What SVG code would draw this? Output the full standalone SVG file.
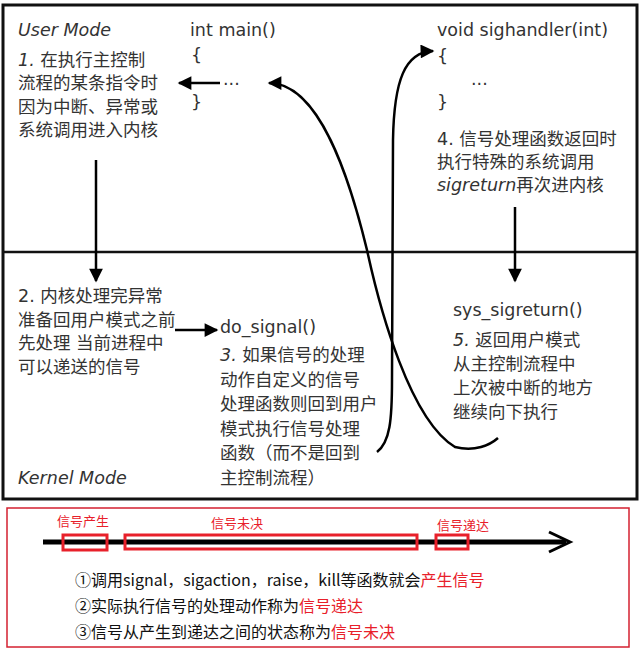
<svg xmlns="http://www.w3.org/2000/svg" width="641" height="650" viewBox="0 0 641 650">
<style>
.t{font-family:"DejaVu Sans","Noto Sans CJK SC",sans-serif;font-size:17.5px;fill:#333}
.i{font-style:italic}
.ln{fill:none;stroke:#000;stroke-width:2.5}
.b{font-family:"Noto Sans CJK SC","Noto Sans",sans-serif;font-size:16px;fill:#111}
.r{fill:#e8202a}
.rb{fill:none;stroke:#e8202a;stroke-width:3}
.lab{font-family:"Noto Sans CJK SC",sans-serif;font-size:13px;fill:#e8202a}
</style>
<defs>
<marker id="ah" viewBox="0 0 10 10" refX="9" refY="5" markerWidth="6" markerHeight="5.5" markerUnits="strokeWidth" orient="auto">
<path d="M0,0 L10,5 L0,10 z" fill="#000"/>
</marker>
</defs>
<rect x="3" y="5" width="634" height="494" fill="#fff" stroke="#111" stroke-width="3"/>
<line x1="3" y1="252" x2="637" y2="252" stroke="#111" stroke-width="2.5"/>
<g id="userMode"><text class="t i" x="18" y="36">User Mode</text></g>
<g id="kernelMode"><text class="t i" x="18" y="484">Kernel Mode</text></g>
<g id="step1">
<text class="t" x="18" y="66"><tspan class="i">1.</tspan> 在执行主控制</text>
<text class="t" x="18" y="89">流程的某条指令时</text>
<text class="t" x="18" y="113">因为中断、异常或</text>
<text class="t" x="18" y="136">系统调用进入内核</text>
</g>
<g id="main">
<text class="t" x="190" y="36">int main()</text>
<text class="t" x="191" y="61">{</text>
<text class="t" x="223" y="85">...</text>
<text class="t" x="191" y="108">}</text>
</g>
<g id="sighandler">
<text class="t" x="437" y="36">void sighandler(int)</text>
<text class="t" x="437" y="62">{</text>
<text class="t" x="471" y="85">...</text>
<text class="t" x="437" y="108">}</text>
</g>
<g id="step4">
<text class="t" x="437" y="145">4. 信号处理函数返回时</text>
<text class="t" x="437" y="168">执行特殊的系统调用</text>
<text class="t" x="437" y="191"><tspan class="i">sigreturn</tspan>再次进内核</text>
</g>
<g id="step2">
<text class="t" x="18" y="302">2. 内核处理完异常</text>
<text class="t" x="18" y="326">准备回用户模式之前</text>
<text class="t" x="18" y="349">先处理 当前进程中</text>
<text class="t" x="18" y="373">可以递送的信号</text>
</g>
<g id="doSignal">
<text class="t" x="220" y="333">do_signal()</text>
<text class="t" x="220" y="361"><tspan class="i">3.</tspan> 如果信号的处理</text>
<text class="t" x="220" y="386">动作自定义的信号</text>
<text class="t" x="220" y="410">处理函数则回到用户</text>
<text class="t" x="220" y="435">模式执行信号处理</text>
<text class="t" x="220" y="459">函数（而不是回到</text>
<text class="t" x="220" y="484">主控制流程）</text>
</g>
<g id="sysSigreturn">
<text class="t" x="453" y="316">sys_sigreturn()</text>
<text class="t" x="453" y="346"><tspan class="i">5.</tspan> 返回用户模式</text>
<text class="t" x="453" y="370">从主控制流程中</text>
<text class="t" x="453" y="394">上次被中断的地方</text>
<text class="t" x="453" y="418">继续向下执行</text>
</g>
<g id="connectors">
<line class="ln" x1="220" y1="83" x2="179" y2="83" marker-end="url(#ah)"/>
<line class="ln" x1="96" y1="160" x2="96" y2="281" marker-end="url(#ah)"/>
<line class="ln" x1="175" y1="330" x2="217" y2="330" marker-end="url(#ah)"/>
<line class="ln" x1="515" y1="207" x2="515" y2="281" marker-end="url(#ah)"/>
<path class="ln" d="M498,438 C490,445 475,452 455,447 C410,420 380,310 367,250 C350,180 320,83 269,83" marker-end="url(#ah)" stroke-width="2.3"/>
<path class="ln" d="M377,452 C390,442 392,420 392,380 L393,140 C394,80 405,52 433,51" marker-end="url(#ah)" stroke-width="2.3"/>
</g>
<g id="timeline">
<rect x="7" y="508" width="622" height="139" fill="none" stroke="#d42030" stroke-width="1.5"/>
<line x1="43" y1="542" x2="566" y2="542" stroke="#000" stroke-width="5"/>
<path d="M549,532 L570,542 L549,552" fill="none" stroke="#000" stroke-width="3"/>
<rect class="rb" x="63" y="535" width="44" height="15"/>
<rect class="rb" x="125" y="535" width="292" height="14"/>
<rect class="rb" x="436" y="535" width="32" height="14"/>
<text class="lab" x="57" y="526">信号产生</text>
<text class="lab" x="211" y="528">信号未决</text>
<text class="lab" x="437" y="530">信号递达</text>
<text class="b" x="75" y="586">①调用signal，sigaction，raise，kill等函数就会<tspan class="r">产生信号</tspan></text>
<text class="b" x="75" y="612">②实际执行信号的处理动作称为<tspan class="r">信号递达</tspan></text>
<text class="b" x="75" y="638">③信号从产生到递达之间的状态称为<tspan class="r">信号未决</tspan></text>
</g>
</svg>
